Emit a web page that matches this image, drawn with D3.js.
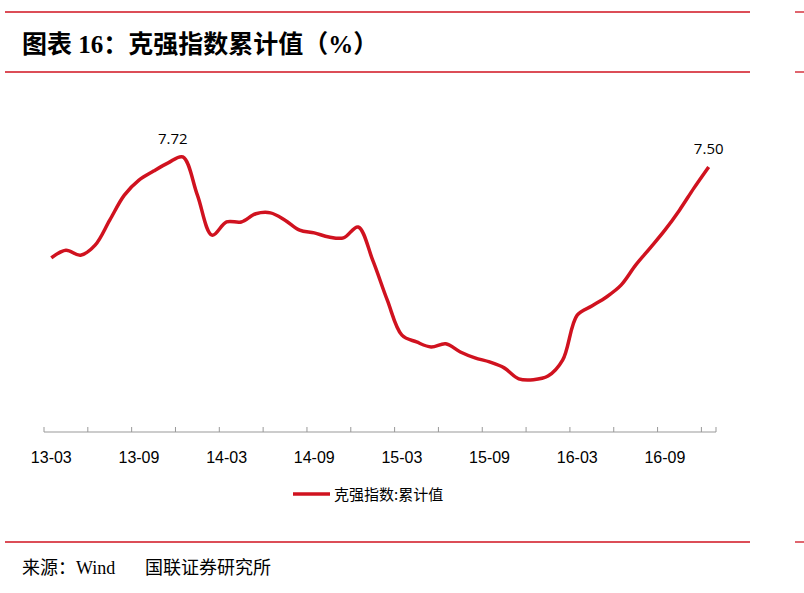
<!DOCTYPE html><html><head><meta charset="utf-8">
<script src="https://cdn.jsdelivr.net/npm/d3@7/dist/d3.min.js"></script>
<style>body{margin:0;background:#fff}</style></head><body>
<script>
const months=[];for(let y=13;y<=16;y++)for(let m=1;m<=12;m++){if(y===13&&m<3)continue;months.push(y+"-"+String(m).padStart(2,"0"));}
const values=[5.50,5.67,5.56,5.78,6.33,6.88,7.21,7.41,7.59,7.72,6.88,6.00,6.29,6.29,6.47,6.49,6.33,6.11,6.05,5.96,5.94,6.18,5.45,4.57,3.80,3.65,3.54,3.61,3.43,3.30,3.21,3.08,2.84,2.82,2.90,3.25,4.24,4.44,4.64,4.90,5.34,5.72,6.11,6.55,7.04,7.50];
const tickLabels=["13-03","13-09","14-03","14-09","15-03","15-09","16-03","16-09"];
const seriesName="克强指数:累计值";
const W=804,H=593,red="#d0121f";
const svg=d3.select("body").append("svg").attr("width",W).attr("height",H);
[12,72,542].forEach(yy=>{svg.append("line").attr("x1",5).attr("x2",750).attr("y1",yy).attr("y2",yy).attr("stroke",red).attr("stroke-width",1.3);
svg.append("line").attr("x1",795).attr("x2",804).attr("y1",yy).attr("y2",yy).attr("stroke",red).attr("stroke-width",1.3);});
const serif="'Liberation Serif','Noto Sans CJK SC'";
svg.append("text").attr("x",22).attr("y",53).attr("font-family",serif).attr("font-weight","bold").attr("font-size",25).text("图表 16：克强指数累计值（%）");
svg.append("text").attr("x",22).attr("y",574).attr("font-family",serif).attr("font-size",18).text("来源：Wind");
svg.append("text").attr("x",145).attr("y",574).attr("font-family",serif).attr("font-size",18).text("国联证券研究所");
const x=d3.scaleBand().domain(months).range([44,716]);
const y=d3.scaleLinear().domain([1.5,8.5]).range([439.7,121.5]);
const axisY=432;
svg.append("line").attr("x1",44).attr("x2",716).attr("y1",axisY).attr("y2",axisY).attr("stroke","#999").attr("stroke-width",1.2);
months.forEach((m,i)=>{if(i%3===0)svg.append("line").attr("x1",x(m)).attr("x2",x(m)).attr("y1",axisY-5).attr("y2",axisY).attr("stroke","#999");});
svg.append("line").attr("x1",716).attr("x2",716).attr("y1",axisY-5).attr("y2",axisY).attr("stroke","#999");
tickLabels.forEach(t=>svg.append("text").attr("x",x(t)+x.bandwidth()/2).attr("y",463).attr("text-anchor","middle").attr("font-family","'Liberation Sans',Arial").attr("font-size",16).text(t));
const cx=m=>x(m)+x.bandwidth()/2;
svg.append("path").datum(values).attr("fill","none").attr("stroke",red).attr("stroke-width",3.5).attr("stroke-linejoin","round")
 .attr("d",d3.line().x((d,i)=>cx(months[i])).y(d=>y(d)).curve(d3.curveCatmullRom.alpha(0.5)));
const imax=values.indexOf(d3.max(values)),il=values.length-1;
[imax,il].forEach(i=>svg.append("text").attr("x",cx(months[i])-(i===imax?10:0)).attr("y",y(values[i])-13).attr("text-anchor","middle").attr("font-family","'Open Sans'").attr("font-size",15).text(values[i].toFixed(2)));
svg.append("line").attr("x1",293).attr("x2",330).attr("y1",494).attr("y2",494).attr("stroke",red).attr("stroke-width",3.5);
svg.append("text").attr("x",334).attr("y",500).attr("font-family","'Noto Sans CJK SC'").attr("font-size",15).text(seriesName);
</script></body></html>
